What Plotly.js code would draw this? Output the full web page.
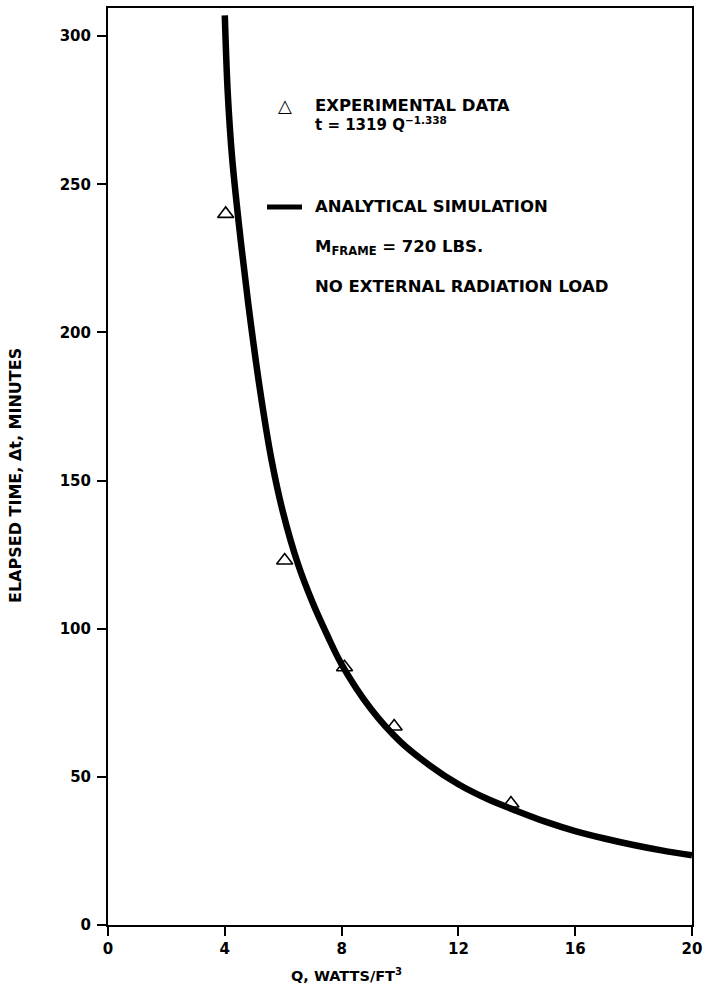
<!DOCTYPE html>
<html>
<head>
<meta charset="utf-8">
<script src="https://cdn.plot.ly/plotly-3.0.1.min.js"></script>
<style>html,body{margin:0;padding:0;background:#fff;}#chart{width:706px;height:992px;}</style>
</head>
<body>
<div id="chart"></div>
<script>
// Experimental data (triangles)
const expQ = [4.03, 6.05, 8.1, 9.8, 13.8];
const expT = [240, 123, 87, 67, 41];

// Analytical simulation curve
const simQ = [4.0, 4.1, 4.25, 4.5, 4.8, 5.2, 5.6, 6.0, 6.5, 7.0, 7.5, 8.0, 9.0, 10.0, 11.0, 12.0, 13.0, 14.0, 15.0, 16.0, 17.0, 18.0, 19.0, 20.0];
const simT = [307, 281, 259, 235, 210, 181, 157, 139, 122, 109, 98, 88, 73, 62, 54, 47.5, 42.5, 38.5, 34.8, 31.7, 29.2, 27, 25.1, 23.5];

const xTicks = [0, 4, 8, 12, 16, 20];
const yTicks = [0, 50, 100, 150, 200, 250, 300];

const FONT = "DejaVu Sans";

const traces = [
  {
    x: simQ, y: simT, mode: "lines", type: "scatter",
    line: {color: "#000", width: 6.5, shape: "spline", smoothing: 1},
    showlegend: false, hoverinfo: "skip"
  },
  {
    x: expQ, y: expT, mode: "markers", type: "scatter",
    marker: {symbol: "triangle-up-open", size: 14, color: "#000", line: {width: 1.6, color: "#000"}},
    showlegend: false, hoverinfo: "skip"
  }
];

// plot area in pixels: x 108..692, y 8..925
const L = 108, R = 692, T = 8, B = 925;
const px = v => (v - L) / (R - L);
const py = v => (B - v) / (B - T);

const txt = {family: FONT, size: 16.5, color: "#000", weight: "bold"};

const annotations = [
  {xref: "paper", yref: "paper", x: px(285), y: py(106), text: "△", showarrow: false,
   xanchor: "center", yanchor: "middle", font: {family: FONT, size: 18, color: "#000"}},
  {xref: "paper", yref: "paper", x: px(313), y: py(106), text: "EXPERIMENTAL DATA", showarrow: false,
   xanchor: "left", yanchor: "middle", font: txt},
  {xref: "paper", yref: "paper", x: px(313), y: py(124), text: "t = 1319 Q<sup>−1.338</sup>", showarrow: false,
   xanchor: "left", yanchor: "middle", font: {family: FONT, size: 15, color: "#000", weight: "bold"}},
  {xref: "paper", yref: "paper", x: px(313), y: py(207), text: "ANALYTICAL SIMULATION", showarrow: false,
   xanchor: "left", yanchor: "middle", font: txt},
  {xref: "paper", yref: "paper", x: px(313), y: py(248), text: "M<sub>FRAME</sub> = 720 LBS.", showarrow: false,
   xanchor: "left", yanchor: "middle", font: txt},
  {xref: "paper", yref: "paper", x: px(313), y: py(287), text: "NO EXTERNAL RADIATION LOAD", showarrow: false,
   xanchor: "left", yanchor: "middle", font: txt},
  {xref: "paper", yref: "paper", x: px(346), y: py(975), text: "Q, WATTS/FT<sup>3</sup>", showarrow: false,
   xanchor: "center", yanchor: "middle", font: {family: FONT, size: 14.5, color: "#000", weight: "bold"}},
  {xref: "paper", yref: "paper", x: px(15), y: py(476), text: "ELAPSED TIME, Δt, MINUTES", showarrow: false,
   textangle: -90, xanchor: "center", yanchor: "middle", font: {family: FONT, size: 16, color: "#000", weight: "bold"}}
];

const shapes = [
  {type: "line", xref: "paper", yref: "paper", x0: px(267), x1: px(302), y0: py(207), y1: py(207),
   line: {color: "#000", width: 5}}
];

const tickFont = {family: FONT, size: 15, color: "#000", weight: "bold"};

const layout = {
  width: 706, height: 992,
  margin: {l: L, r: 706 - R, t: T, b: 992 - B, pad: 0},
  paper_bgcolor: "#fff", plot_bgcolor: "#fff",
  showlegend: false,
  xaxis: {
    range: [0, 20], tickvals: xTicks, ticktext: xTicks.map(String),
    ticks: "outside", ticklen: 9, tickwidth: 2, tickcolor: "#000",
    showline: true, linewidth: 2, linecolor: "#000", mirror: true,
    showgrid: false, zeroline: false,
    tickfont: tickFont
  },
  yaxis: {
    range: [0, 309.5], tickvals: yTicks, ticktext: yTicks.map(String),
    ticks: "outside", ticklen: 9, tickwidth: 2, tickcolor: "#000",
    showline: true, linewidth: 2, linecolor: "#000", mirror: true,
    showgrid: false, zeroline: false, ticklabelstandoff: 3,
    tickfont: tickFont
  },
  annotations: annotations,
  shapes: shapes
};

Plotly.newPlot("chart", traces, layout, {staticPlot: true, displayModeBar: false});
</script>
</body>
</html>
